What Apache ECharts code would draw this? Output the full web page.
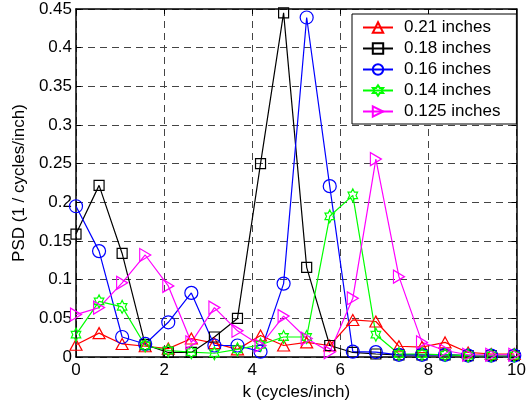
<!DOCTYPE html>
<html>
<head>
<meta charset="utf-8">
<script src="https://cdn.jsdelivr.net/npm/echarts@6/dist/echarts.min.js"></script>
<style>
html,body{margin:0;padding:0;background:#fff;}
#chart{width:529px;height:406px;}
</style>
</head>
<body>
<div id="chart"></div>
<script>
// Wavenumber spacing between samples (cycles/inch)
const kStep = 0.5236;
const kIndex = [0,1,2,3,4,5,6,7,8,9,10,11,12,13,14,15,16,17,18,19];
const seriesNames = ['0.21 inches','0.18 inches','0.16 inches','0.14 inches','0.125 inches'];
const psd021 = [0.016,0.031,0.017,0.014,0.011,0.024,0.018,0.010,0.028,0.015,0.019,0.015,0.048,0.046,0.014,0.013,0.019,0.006,0.004,0.004];
const psd018 = [0.159,0.222,0.134,0.016,0.006,0.006,0.026,0.050,0.250,0.445,0.116,0.015,0.006,0.004,0.003,0.003,0.003,0.002,0.002,0.002];
const psd016 = [0.195,0.137,0.026,0.017,0.045,0.083,0.015,0.015,0.007,0.095,0.439,0.221,0.007,0.0065,0.003,0.003,0.003,0.002,0.002,0.002];
const psd014 = [0.029,0.072,0.065,0.015,0.0085,0.0065,0.005,0.010,0.016,0.026,0.026,0.182,0.209,0.029,0.004,0.004,0.003,0.002,0.002,0.002];
const psd0125 = [0.055,0.064,0.096,0.132,0.092,0.019,0.064,0.034,0.015,0.053,0.024,0.0065,0.076,0.256,0.104,0.019,0.0085,0.003,0.003,0.003];

const allValues = [psd021, psd018, psd016, psd014, psd0125];
const colors = ['#ff0000','#000000','#0000ff','#00ff00','#ff00ff'];
const hexagram = 'path://M0,-10L2.887,-5L8.66,-5L5.77,0L8.66,5L2.887,5L0,10L-2.887,5L-8.66,5L-5.77,0L-8.66,-5L-2.887,-5Z';
const symbols = ['triangle','rect','circle',hexagram,'path://M0,0L10,5L0,10Z'];
const sizes = [[12,11],[10,10],[13,13],[11,13],[11,13]];

const FONT = 'Liberation Sans, Arial, sans-serif';
const chart = echarts.init(document.getElementById('chart'));

const series = allValues.map((vals, s) => ({
  name: seriesNames[s],
  type: 'line',
  xAxisIndex: 0, yAxisIndex: 0,
  data: kIndex.map((i, j) => [i * kStep, vals[j]]),
  symbol: symbols[s],
  symbolSize: sizes[s],
  symbolKeepAspect: true,
  showAllSymbol: true,
  lineStyle: {color: colors[s], width: 1.2},
  itemStyle: {color: 'rgba(255,255,255,0)', borderColor: colors[s], borderWidth: 1.2},
  emphasis: {disabled: true},
  animation: false
}));

const gridLine = {show: true, lineStyle: {color: '#444', type: [7,5], width: 1}};

chart.setOption({
  animation: false,
  grid: {left: 76, right: 8, top: 9, bottom: 44},
  xAxis: [{
    type: 'value', min: 0, max: 10, interval: 2,
    name: 'k (cycles/inch)', nameLocation: 'middle', nameGap: 22,
    nameTextStyle: {color: '#000', fontSize: 17, fontFamily: FONT},
    axisLine: {show: true, onZero: false, lineStyle: {color: '#000', width: 1.5}},
    axisTick: {show: true, inside: true, length: 5, lineStyle: {color: '#000'}},
    axisLabel: {color: '#000', fontSize: 17, fontFamily: FONT, margin: 5},
    splitLine: gridLine
  },{
    type: 'value', min: 0, max: 10, interval: 2, position: 'top',
    axisLine: {show: true, onZero: false, lineStyle: {color: '#000', width: 1.5}},
    axisTick: {show: true, inside: true, length: 5, lineStyle: {color: '#000'}},
    axisLabel: {show: false}, splitLine: {show: false}
  }],
  yAxis: [{
    type: 'value', min: 0, max: 0.45, interval: 0.05,
    name: 'PSD (1 / cycles/inch)', nameLocation: 'middle', nameGap: 45,
    nameTextStyle: {color: '#000', fontSize: 17, fontFamily: FONT},
    axisLine: {show: true, onZero: false, lineStyle: {color: '#000', width: 1.5}},
    axisTick: {show: true, inside: true, length: 5, lineStyle: {color: '#000'}},
    axisLabel: {color: '#000', fontSize: 17, fontFamily: FONT, margin: 4,
      formatter: v => String(parseFloat(v.toFixed(2)))},
    splitLine: gridLine
  },{
    type: 'value', min: 0, max: 0.45, interval: 0.05, position: 'right',
    axisLine: {show: true, onZero: false, lineStyle: {color: '#000', width: 1.5}},
    axisTick: {show: true, inside: true, length: 5, lineStyle: {color: '#000'}},
    axisLabel: {show: false}, splitLine: {show: false}
  }],
  legend: {
    orient: 'vertical', left: 352, top: 14,
    width: 168,
    backgroundColor: '#fff', borderColor: '#000', borderWidth: 1,
    padding: [5, 16, 4, 10],
    itemWidth: 30, itemHeight: 13, itemGap: 4,
    textStyle: {color: '#000', fontSize: 17, fontFamily: FONT, padding: [0,0,0,6], lineHeight: 17},
    data: seriesNames
  },
  series: series
});
</script>
</body>
</html>
